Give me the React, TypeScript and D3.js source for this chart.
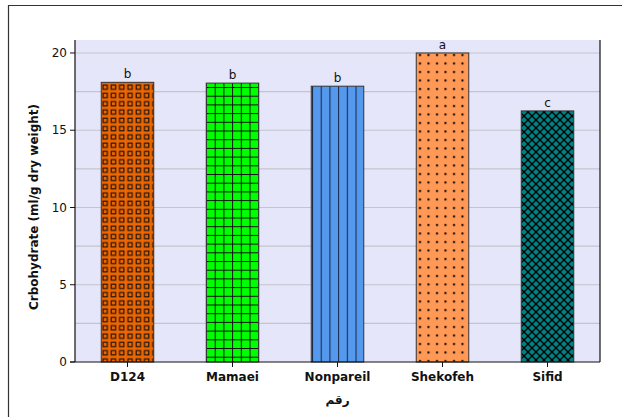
import React from "react";
import * as d3 from "d3";

const categories = ["D124", "Mamaei", "Nonpareil", "Shekofeh", "Sifid"];
const values = [18.1, 18.05, 17.85, 20.0, 16.25];
const letters = ["b", "b", "b", "a", "c"];
const yTicks = [0, 5, 10, 15, 20];
const gridValues = [2.5, 5, 7.5, 10, 12.5, 15, 17.5, 20];
const fills = ["#EE6600", "#00FF00", "#5599EE", "#FF9955", "#008080"];
const patternIds = ["pSquares", "pGrid", "pVLines", "pDots", "pDiamond"];

const W = 622;
const H = 417;
const m = { left: 75, right: 600, top: 40, bottom: 362 };

export default function App() {
  const x = d3
    .scaleBand<string>()
    .domain(categories)
    .range([m.left, m.right])
    .paddingInner(0.5)
    .paddingOuter(0.25);
  const y = d3.scaleLinear().domain([0, 20.84]).range([m.bottom, m.top]);
  const font = "Verdana, 'DejaVu Sans', sans-serif";

  return (
    <svg
      width={W}
      height={H}
      style={{ position: "absolute", left: 0, top: 0, background: "#fff" }}
    >
      <defs>
        <pattern id="pSquares" patternUnits="userSpaceOnUse" width={8.3} height={8.3} x={101} y={0}>
          <rect width={8.3} height={8.3} fill={fills[0]} />
          <rect x={2} y={2} width={4.3} height={4.3} fill="none" stroke="#111" strokeWidth={1.1} />
        </pattern>
        <pattern id="pGrid" patternUnits="userSpaceOnUse" width={8.7} height={8.7} x={206} y={0}>
          <rect width={8.7} height={8.7} fill={fills[1]} />
          <line x1={0.5} y1={0} x2={0.5} y2={8.7} stroke="#111" strokeWidth={1} />
          <line x1={0} y1={0.5} x2={8.7} y2={0.5} stroke="#111" strokeWidth={1} />
        </pattern>
        <pattern id="pVLines" patternUnits="userSpaceOnUse" width={8.7} height={10} x={312} y={0}>
          <rect width={8.7} height={10} fill={fills[2]} />
          <line x1={0.5} y1={0} x2={0.5} y2={10} stroke="#1a2a44" strokeWidth={1.1} />
        </pattern>
        <pattern id="pDots" patternUnits="userSpaceOnUse" width={8.5} height={8.5} x={416} y={0}>
          <rect width={8.5} height={8.5} fill={fills[3]} />
          <rect x={3} y={3} width={2} height={2} fill="#000" />
        </pattern>
        <pattern id="pDiamond" patternUnits="userSpaceOnUse" width={8} height={8} x={520} y={0}>
          <rect width={8} height={8} fill={fills[4]} />
          <path d="M0,0 L8,8 M8,0 L0,8" stroke="#000" strokeWidth={1.3} />
        </pattern>
      </defs>

      <line x1={8} y1={5.5} x2={W} y2={5.5} stroke="#333" strokeWidth={1.2} />
      <line x1={8.5} y1={5} x2={8.5} y2={H} stroke="#333" strokeWidth={1.2} />

      <rect
        x={m.left}
        y={m.top}
        width={m.right - m.left}
        height={m.bottom - m.top}
        fill="#E6E6FA"
      />
      {gridValues.map((v) => (
        <line
          key={v}
          x1={m.left}
          x2={m.right}
          y1={y(v)}
          y2={y(v)}
          stroke="#C4C4CC"
          strokeWidth={1.2}
        />
      ))}

      {categories.map((c, i) => {
        const bx = x(c)!;
        const by = y(values[i]);
        return (
          <g key={c}>
            <rect
              x={bx}
              y={by}
              width={x.bandwidth()}
              height={m.bottom - by}
              fill={`url(#${patternIds[i]})`}
              stroke="#333"
              strokeWidth={1}
            />
            <text
              x={bx + x.bandwidth() / 2}
              y={by - 4}
              textAnchor="middle"
              fontFamily={font}
              fontSize={12}
              fill="#111"
            >
              {letters[i]}
            </text>
          </g>
        );
      })}

      <line x1={m.left} x2={m.left} y1={m.top} y2={m.bottom} stroke="#111" strokeWidth={1.2} />
      <line x1={m.right} x2={m.right} y1={m.top} y2={m.bottom} stroke="#111" strokeWidth={1.2} />
      <line x1={m.left - 5} x2={m.right} y1={m.bottom} y2={m.bottom} stroke="#111" strokeWidth={1.2} />

      {yTicks.map((t) => (
        <g key={t}>
          <line x1={m.left - 5} x2={m.left} y1={y(t)} y2={y(t)} stroke="#111" />
          <text
            x={m.left - 8}
            y={y(t)}
            dy="0.35em"
            textAnchor="end"
            fontFamily={font}
            fontSize={12}
            fill="#111"
          >
            {t}
          </text>
        </g>
      ))}

      {categories.map((c) => {
        const cx = x(c)! + x.bandwidth() / 2;
        return (
          <g key={c}>
            <line x1={cx} x2={cx} y1={m.bottom} y2={m.bottom + 5} stroke="#111" />
            <text
              x={cx}
              y={m.bottom + 19}
              textAnchor="middle"
              fontFamily={font}
              fontSize={12}
              fontWeight="bold"
              fill="#111"
            >
              {c}
            </text>
          </g>
        );
      })}

      <text
        transform={`translate(38, ${(m.top + m.bottom) / 2 + 6}) rotate(-90)`}
        textAnchor="middle"
        fontFamily={font}
        fontSize={12}
        fontWeight="bold"
        fill="#111"
      >
        Crbohydrate (ml/g dry weight)
      </text>
      <text
        x={(m.left + m.right) / 2}
        y={404}
        textAnchor="middle"
        fontFamily="'DejaVu Sans', sans-serif"
        fontSize={12}
        fontWeight="bold"
        fill="#111"
      >
        رقم
      </text>
    </svg>
  );
}
